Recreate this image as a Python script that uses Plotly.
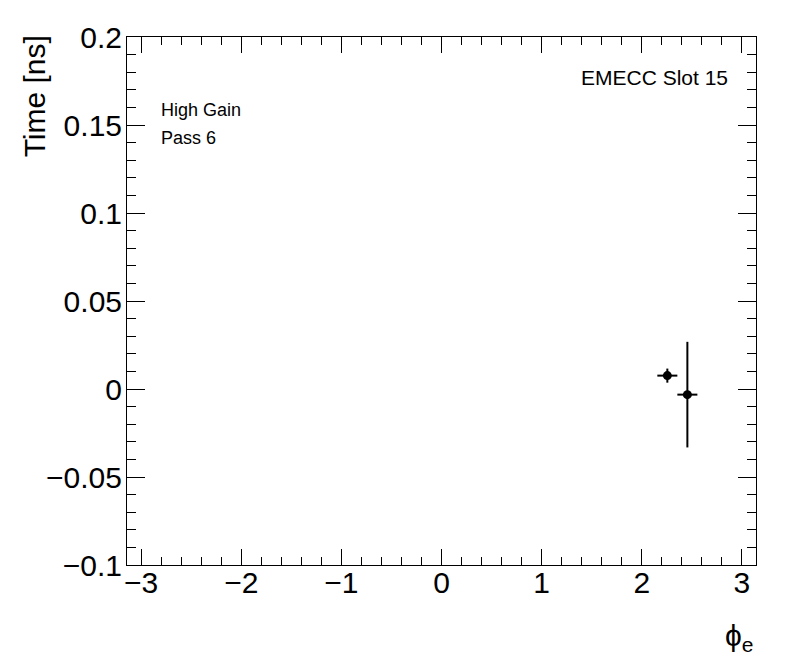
import plotly.graph_objects as go
import math

phi = [2.256, 2.456]
time_ns = [0.0076, -0.0032]
phi_err = [0.1, 0.1]
time_err = [0.004, 0.030]

FONT = "Liberation Sans, Arial, Helvetica, sans-serif"

fig = go.Figure()
fig.add_trace(go.Scatter(
    x=phi, y=time_ns, mode="markers",
    marker=dict(color="black", size=9, symbol="circle"),
    error_x=dict(type="data", array=phi_err, color="black", thickness=2, width=0),
    error_y=dict(type="data", array=time_err, color="black", thickness=2, width=0),
    showlegend=False,
))

axis_common = dict(
    showgrid=False, zeroline=False, showline=True, linecolor="black", linewidth=1,
    mirror="allticks", ticks="inside", tickcolor="black", tickwidth=1,
    tickfont=dict(family=FONT, size=30, color="black"),
)

fig.update_xaxes(range=[-math.pi, math.pi], dtick=1, tick0=0, ticklen=16,
                 ticklabelstandoff=-9,
                 minor=dict(dtick=0.2, ticklen=8, ticks="inside", tickcolor="black"),
                 **axis_common)
fig.update_yaxes(range=[-0.1, 0.2], dtick=0.05, tick0=0, ticklen=18,
                 ticklabelstandoff=-2,
                 minor=dict(dtick=0.01, ticklen=9, ticks="inside", tickcolor="black"),
                 **axis_common)

fig.add_annotation(text="Time [ns]", xref="paper", yref="paper", x=-0.147, y=1.006,
                   xanchor="center", yanchor="top", textangle=-90, showarrow=False,
                   font=dict(family=FONT, size=30, color="black"))
fig.add_annotation(text="ϕ<sub>e</sub>", xref="paper", yref="paper", x=1.0, y=-0.137,
                   xanchor="right", yanchor="middle", showarrow=False,
                   font=dict(family=FONT, size=30, color="black"))
fig.add_annotation(text="High Gain", xref="paper", yref="paper", x=0.051, y=(565-107)/532,
                   xanchor="left", yanchor="middle", showarrow=False,
                   font=dict(family=FONT, size=18, color="black"))
fig.add_annotation(text="Pass 6", xref="paper", yref="paper", x=0.051, y=(565-135)/532,
                   xanchor="left", yanchor="middle", showarrow=False,
                   font=dict(family=FONT, size=18, color="black"))
fig.add_annotation(text="EMECC Slot 15", xref="paper", yref="paper", x=(730-127)/629, y=(565-74)/532,
                   xanchor="right", yanchor="middle", showarrow=False,
                   font=dict(family=FONT, size=21, color="black"))

fig.update_layout(
    width=788, height=664,
    margin=dict(l=119, r=40, t=25, b=107),
    plot_bgcolor="white", paper_bgcolor="white",
)

fig.write_html("out.html")
